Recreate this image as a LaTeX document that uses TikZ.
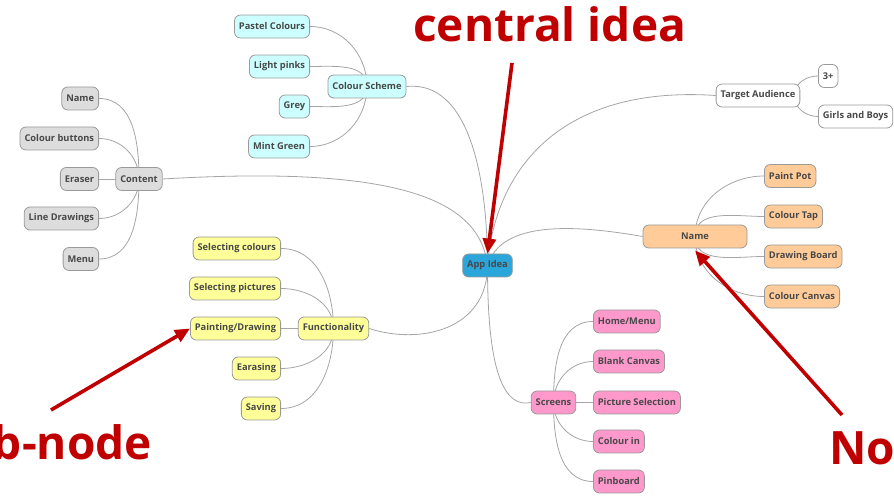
\documentclass[tikz,border=0pt]{standalone}
\usepackage{fontspec}
\setmainfont{Open Sans}
\usetikzlibrary{arrows.meta,backgrounds,calc}

\definecolor{boxline}{HTML}{9A9A9A}
\definecolor{linkgray}{HTML}{A5A5A5}
\definecolor{nodetext}{HTML}{484848}
\definecolor{callred}{HTML}{C00000}
\definecolor{cyanbox}{HTML}{CCFFFF}
\definecolor{graybox}{HTML}{DDDDDD}
\definecolor{yellowbox}{HTML}{FFFF99}
\definecolor{orangebox}{HTML}{FFCC99}
\definecolor{pinkbox}{HTML}{FF99CC}
\definecolor{bluebox}{HTML}{2AA6DA}

\begin{document}
\begin{tikzpicture}[x=1pt,y=1pt,
    idea/.style={draw=boxline, line width=0.8pt, rounded corners=6pt,
      minimum height=23pt, inner xsep=4.5pt,
      font=\fontsize{9.3}{11}\selectfont\bfseries, text=nodetext},
    link/.style={draw=linkgray, line width=0.8pt},
    callout/.style={draw=callred, line width=3.6pt,
      -{Triangle[length=15pt,width=13pt]}},
    bigword/.style={text=callred, inner sep=0pt,
      font=\fontsize{46}{52}\selectfont\bfseries}]
    \useasboundingbox (0,0) rectangle (894,497);
    \clip (0,0) rectangle (894,497);

    % central idea
    \node[idea, fill=bluebox] (app) at (487.5,231.5) {App Idea};

    % main branches
    \node[idea, fill=cyanbox] (scheme) at (367,410.5) {Colour Scheme};
    \node[idea, fill=graybox] (content) at (139,318) {Content};
    \node[idea, fill=yellowbox] (func) at (333.5,168.5) {Functionality};
    \node[idea, fill=white] (audience) at (758,401.5) {Target Audience};
    \node[idea, fill=orangebox, minimum width=104pt] (name) at (695,260.5) {Name};
    \node[idea, fill=pinkbox] (screens) at (553.5,94.5) {Screens};

    % colour scheme
    \node[idea, fill=cyanbox, anchor=east] (pastel) at (310,470.5) {Pastel Colours};
    \node[idea, fill=cyanbox, anchor=east] (pinks) at (310,430.5) {Light pinks};
    \node[idea, fill=cyanbox, anchor=east] (grey) at (310,390.5) {Grey};
    \node[idea, fill=cyanbox, anchor=east] (mint) at (310,350.5) {Mint Green};

    % content
    \node[idea, fill=graybox, anchor=east] (cname) at (99,398.5) {Name};
    \node[idea, fill=graybox, anchor=east] (buttons) at (99,358.5) {Colour buttons};
    \node[idea, fill=graybox, anchor=east] (eraser) at (99,318) {Eraser};
    \node[idea, fill=graybox, anchor=east] (drawings) at (99,278.5) {Line Drawings};
    \node[idea, fill=graybox, anchor=east] (menu) at (99,238) {Menu};

    % functionality
    \node[idea, fill=yellowbox, anchor=east] (selcol) at (281,248.5) {Selecting colours};
    \node[idea, fill=yellowbox, anchor=east] (selpic) at (281,208.5) {Selecting pictures};
    \node[idea, fill=yellowbox, anchor=east] (painting) at (281,168.5) {Painting/Drawing};
    \node[idea, fill=yellowbox, anchor=east] (earasing) at (281,128.5) {Earasing};
    \node[idea, fill=yellowbox, anchor=east] (saving) at (281,88.5) {Saving};

    % target audience
    \node[idea, fill=white, anchor=west] (age) at (818,421) {3+};
    \node[idea, fill=white, anchor=west] (kids) at (818,380.5) {Girls and Boys};

    % name
    \node[idea, fill=orangebox, anchor=west] (pot) at (764,321) {Paint Pot};
    \node[idea, fill=orangebox, anchor=west] (tap) at (764,280.5) {Colour Tap};
    \node[idea, fill=orangebox, anchor=west] (board) at (764,240.5) {Drawing Board};
    \node[idea, fill=orangebox, anchor=west] (canvas) at (764,200.5) {Colour Canvas};

    % screens
    \node[idea, fill=pinkbox, anchor=west] (home) at (593,175.5) {Home/Menu};
    \node[idea, fill=pinkbox, anchor=west] (blank) at (593,135.5) {Blank Canvas};
    \node[idea, fill=pinkbox, anchor=west] (picsel) at (593,94.5) {Picture Selection};
    \node[idea, fill=pinkbox, anchor=west] (colourin) at (593,55.5) {Colour in};
    \node[idea, fill=pinkbox, anchor=west] (pinboard) at (593,15.5) {Pinboard};

    \begin{pgfonlayer}{background}
        % links to the central idea
        \draw[link] (scheme.east) .. controls (470,417) and (487.5,317) .. (app.center);
        \draw[link] (content.east) .. controls (400,332) and (480,297) .. (app.center);
        \draw[link] (audience.west) .. controls (560,412) and (495,327) .. (app.center);
        \draw[link] (name.west) .. controls (560,275) and (500,272) .. (app.center);
        \draw[link] (func.east) .. controls (420,152) and (487.5,167) .. (app.center);
        \draw[link] (screens.west) .. controls (495,87) and (487.5,157) .. (app.center);

        \draw[link] (pastel.east) to[out=0,in=90] (scheme.center);
        \draw[link] (pinks.east) to[out=0,in=90] (scheme.center);
        \draw[link] (grey.east) to[out=0,in=270] (scheme.center);
        \draw[link] (mint.east) to[out=0,in=270] (scheme.center);

        \draw[link] (cname.east) to[out=0,in=90] (content.center);
        \draw[link] (buttons.east) to[out=0,in=90] (content.center);
        \draw[link] (eraser.east) -- (content.center);
        \draw[link] (drawings.east) to[out=0,in=270] (content.center);
        \draw[link] (menu.east) to[out=0,in=270] (content.center);

        \draw[link] (selcol.east) to[out=0,in=90] (func.center);
        \draw[link] (selpic.east) to[out=0,in=90] (func.center);
        \draw[link] (painting.east) -- (func.center);
        \draw[link] (earasing.east) to[out=0,in=270] (func.center);
        \draw[link] (saving.east) to[out=0,in=270] (func.center);

        \draw[link] (age.west) to[out=180,in=90] ($(audience.east)+(-6,0)$);
        \draw[link] (kids.west) to[out=180,in=270] ($(audience.east)+(-6,0)$);

        \draw[link] (pot.west) to[out=180,in=90] (name.center);
        \draw[link] (tap.west) to[out=180,in=90] (name.center);
        \draw[link] (board.west) to[out=180,in=270] (name.center);
        \draw[link] (canvas.west) to[out=180,in=270] (name.center);

        \draw[link] (home.west) to[out=180,in=90] (screens.center);
        \draw[link] (blank.west) to[out=180,in=90] (screens.center);
        \draw[link] (picsel.west) -- (screens.center);
        \draw[link] (colourin.west) to[out=180,in=270] (screens.center);
        \draw[link] (pinboard.west) to[out=180,in=270] (screens.center);
    \end{pgfonlayer}

    % red call-outs
    \node[bigword, anchor=base west] (centrallabel) at (413,455) {central idea};
    \node[bigword, anchor=base east] (sublabel) at (152,37) {Sub-node};
    \node[bigword, anchor=base west] (nodelabel) at (829,32) {Node};
    \coordinate (centraltail) at (512,434);
    \coordinate (subtail) at (51,87);
    \coordinate (nodetail) at (842,82);
    \draw[callout] (centraltail) -- (app.north);
    \draw[callout] (subtail) -- (painting.west);
    \draw[callout] (nodetail) -- ($(name.south)+(0,-2)$);
\end{tikzpicture}
\end{document}
